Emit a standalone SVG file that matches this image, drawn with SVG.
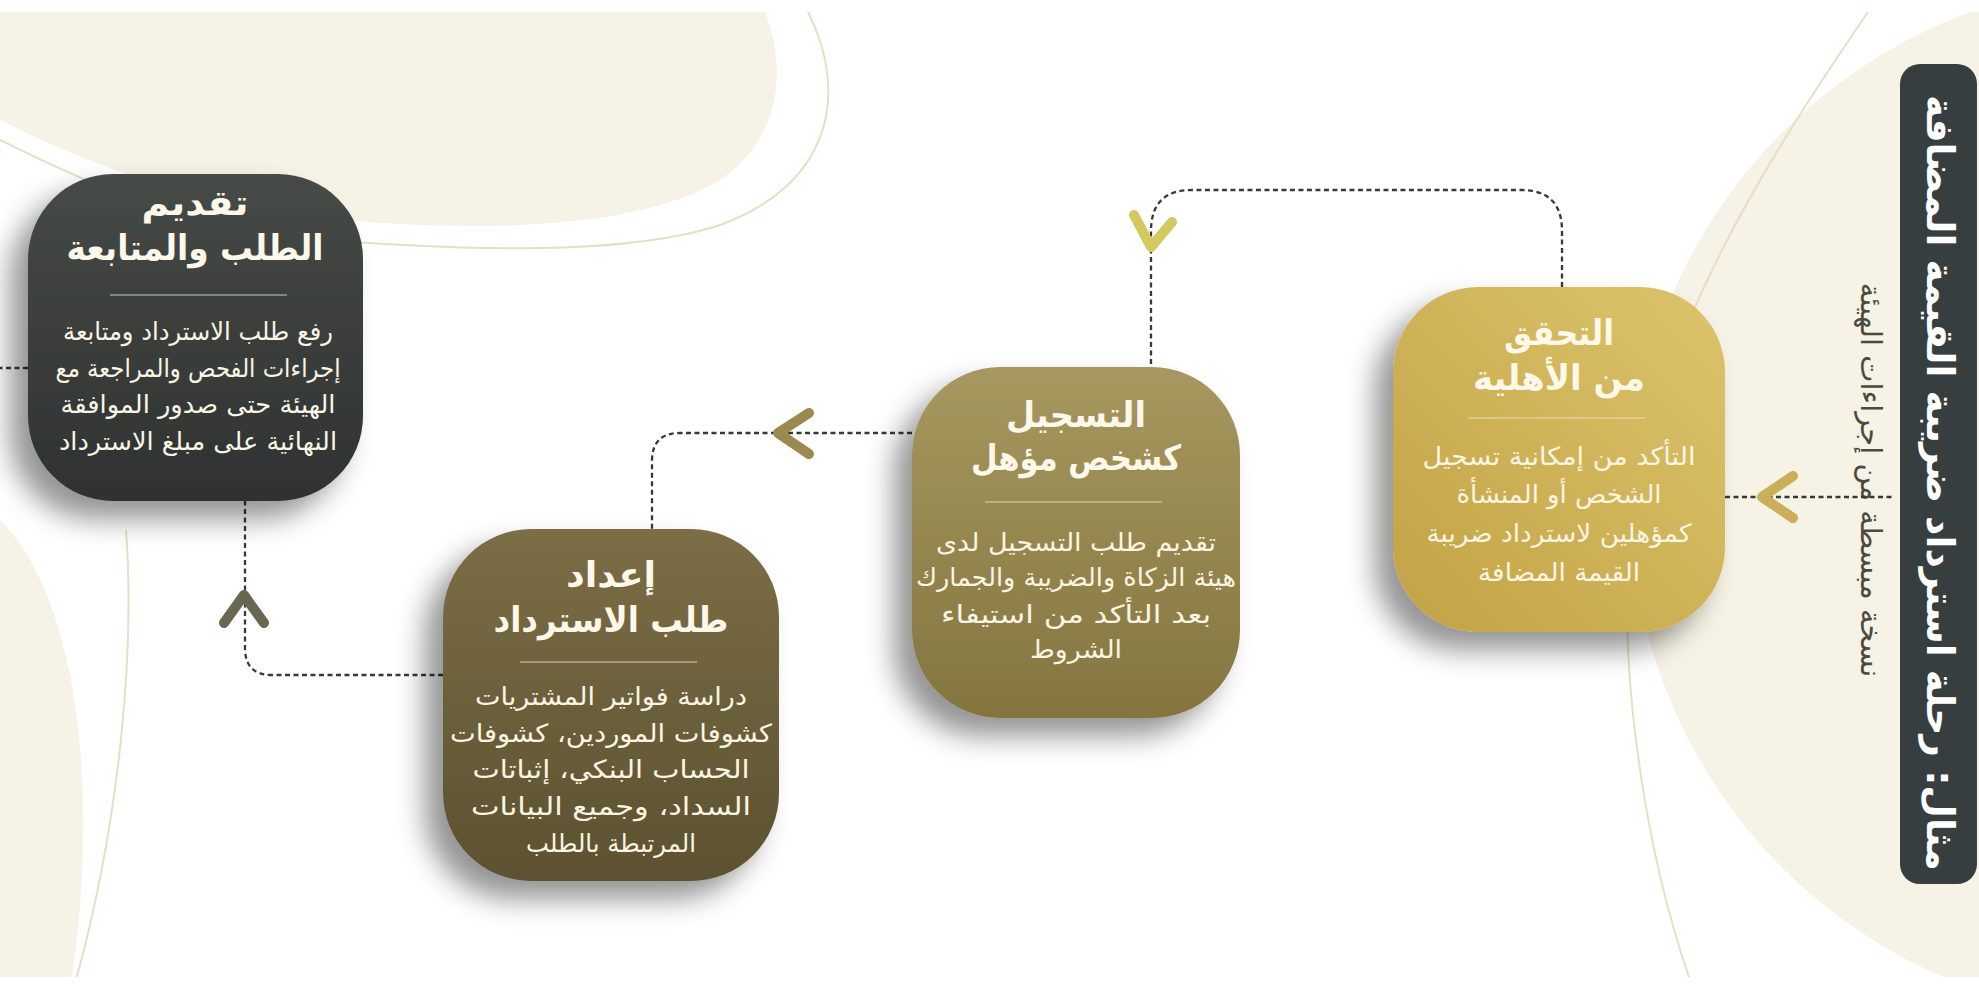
<svg xmlns="http://www.w3.org/2000/svg" width="1979" height="989" viewBox="0 0 1979 989">
<defs>
<linearGradient id="g1" x1="1" y1="0" x2="0" y2="1"><stop offset="0" stop-color="#dcc46c"/><stop offset="1" stop-color="#c2a244"/></linearGradient>
<linearGradient id="g2" x1="0" y1="0" x2="0" y2="1"><stop offset="0" stop-color="#a6985f"/><stop offset="1" stop-color="#847540"/></linearGradient>
<linearGradient id="g3" x1="0" y1="0" x2="0" y2="1"><stop offset="0" stop-color="#7b6e46"/><stop offset="1" stop-color="#5c5130"/></linearGradient>
<linearGradient id="g4" x1="0" y1="0" x2="0" y2="1"><stop offset="0" stop-color="#464a47"/><stop offset="1" stop-color="#2f3231"/></linearGradient>
<filter id="sh" x="-40%" y="-30%" width="170%" height="170%"><feDropShadow dx="-18" dy="18" stdDeviation="14" flood-color="#000" flood-opacity="0.42"/></filter>
<clipPath id="page"><rect x="0" y="12" width="1979" height="965"/></clipPath>
</defs>
<style>
.t{font-family:"DejaVu Sans",sans-serif;font-weight:bold;font-size:35px;fill:#fdf8ea;text-anchor:middle}
.b{font-family:"DejaVu Sans",sans-serif;font-size:25px;fill:#fbf5e4;text-anchor:middle}
.dv{stroke:#f3e9cc;stroke-opacity:.55;stroke-width:1.5}
.c{fill:none;stroke:#383838;stroke-width:2.3;stroke-dasharray:5 3.5}
.ch{fill:none;stroke-width:10;stroke-linecap:round;stroke-linejoin:round}
.bg{fill:#f6f2e5}
.ln{fill:none;stroke:#e6dec6;stroke-width:2}
</style>
<rect width="1979" height="989" fill="#ffffff"/>
<g id="background" clip-path="url(#page)">
<path class="bg" d="M0,12 H765 C790,75 780,160 690,195 C590,235 420,230 300,215 C180,200 80,160 0,120 Z"/>
<path class="ln" d="M808,12 C850,95 830,185 720,225 C620,258 440,250 290,237 C180,225 80,180 0,140"/>
<circle class="bg" cx="2150" cy="500" r="520"/>
<path class="ln" d="M1868,12 C1760,170 1660,330 1632,520 C1615,660 1645,850 1690,980"/>
<path class="bg" d="M0,520 C80,600 100,800 70,989 H0 Z"/>
<path class="ln" d="M126,530 C135,650 120,820 76,980"/>
</g>
<g id="title">
<rect x="1900" y="64" width="77" height="820" rx="20" fill="#363e40"/>
<text x="1940" y="483" transform="rotate(90 1940 483)" dy="13" direction="rtl" textLength="776" lengthAdjust="spacingAndGlyphs" style="font-family:'DejaVu Sans',sans-serif;font-weight:bold;font-size:38px;fill:#ffffff;text-anchor:middle">مثال: رحلة استرداد ضريبة القيمة المضافة</text>
<text x="1871" y="480" transform="rotate(90 1871 480)" dy="10" direction="rtl" style="font-family:'DejaVu Sans',sans-serif;font-size:29px;fill:#4b4b3c;text-anchor:middle">نسخة مبسطة من إجراءات الهيئة</text>
</g>
<g id="connectors">
<path class="c" d="M1725,497 H1895"/>
<path class="c" d="M1562,287 V231 Q1562,190 1521,190 H1192 Q1151,190 1151,231 V367"/>
<path class="c" d="M912,433 H680 Q652,433 652,461 V529"/>
<path class="c" d="M443,675 H272 Q245,675 245,648 V501"/>
<path class="c" d="M28,368 H0"/>
<polyline class="ch" stroke="#c9b058" points="1793,476 1762,497 1793,518"/>
<polyline class="ch" stroke="#d3c95e" points="1134,215 1151,247 1172,222"/>
<polyline class="ch" stroke="#9a8a50" points="809,413 778,433 809,454"/>
<polyline class="ch" stroke="#6a6750" points="224,623 244,595 264,623"/>
</g>
<g id="node1">
<rect x="1393" y="287" width="332" height="345" rx="85" fill="url(#g1)" filter="url(#sh)"/>
<text class="t" x="1559" y="345" direction="rtl" textLength="110" lengthAdjust="spacingAndGlyphs">التحقق</text>
<text class="t" x="1559" y="390" direction="rtl" textLength="172" lengthAdjust="spacingAndGlyphs">من الأهلية</text>
<line class="dv" x1="1468" y1="418" x2="1645" y2="418"/>
<text class="b" x="1559" y="465" direction="rtl" textLength="273" lengthAdjust="spacingAndGlyphs">التأكد من إمكانية تسجيل</text>
<text class="b" x="1559" y="503" direction="rtl" textLength="205" lengthAdjust="spacingAndGlyphs">الشخص أو المنشأة</text>
<text class="b" x="1559" y="542" direction="rtl" textLength="265" lengthAdjust="spacingAndGlyphs">كمؤهلين لاسترداد ضريبة</text>
<text class="b" x="1559" y="581" direction="rtl" textLength="162" lengthAdjust="spacingAndGlyphs">القيمة المضافة</text>
</g>
<g id="node2">
<rect x="912" y="367" width="328" height="351" rx="88" fill="url(#g2)" filter="url(#sh)"/>
<text class="t" x="1076" y="427" direction="rtl" textLength="140" lengthAdjust="spacingAndGlyphs">التسجيل</text>
<text class="t" x="1076" y="470" direction="rtl" textLength="210" lengthAdjust="spacingAndGlyphs">كشخص مؤهل</text>
<line class="dv" x1="985" y1="502" x2="1162" y2="502"/>
<text class="b" x="1076" y="551" direction="rtl" textLength="280" lengthAdjust="spacingAndGlyphs">تقديم طلب التسجيل لدى</text>
<text class="b" x="1076" y="586" direction="rtl" textLength="320" lengthAdjust="spacingAndGlyphs">هيئة الزكاة والضريبة والجمارك</text>
<text class="b" x="1076" y="623" direction="rtl" textLength="270" lengthAdjust="spacingAndGlyphs">بعد التأكد من استيفاء</text>
<text class="b" x="1076" y="658" direction="rtl" textLength="92" lengthAdjust="spacingAndGlyphs">الشروط</text>
</g>
<g id="node3">
<rect x="443" y="529" width="336" height="352" rx="88" fill="url(#g3)" filter="url(#sh)"/>
<text class="t" x="611" y="587" direction="rtl" textLength="90" lengthAdjust="spacingAndGlyphs">إعداد</text>
<text class="t" x="611" y="632" direction="rtl" textLength="235" lengthAdjust="spacingAndGlyphs">طلب الاسترداد</text>
<line class="dv" x1="520" y1="662" x2="697" y2="662"/>
<text class="b" x="611" y="705" direction="rtl" textLength="272" lengthAdjust="spacingAndGlyphs">دراسة فواتير المشتريات</text>
<text class="b" x="611" y="742" direction="rtl" textLength="322" lengthAdjust="spacingAndGlyphs">كشوفات الموردين، كشوفات</text>
<text class="b" x="611" y="778" direction="rtl" textLength="277" lengthAdjust="spacingAndGlyphs">الحساب البنكي، إثباتات</text>
<text class="b" x="611" y="815" direction="rtl" textLength="280" lengthAdjust="spacingAndGlyphs">السداد، وجميع البيانات</text>
<text class="b" x="611" y="852" direction="rtl" textLength="170" lengthAdjust="spacingAndGlyphs">المرتبطة بالطلب</text>
</g>
<g id="node4">
<rect x="28" y="174" width="335" height="327" rx="85" fill="url(#g4)" filter="url(#sh)"/>
<text class="t" x="195" y="215" direction="rtl" textLength="107" lengthAdjust="spacingAndGlyphs">تقديم</text>
<text class="t" x="195" y="260" direction="rtl" textLength="257" lengthAdjust="spacingAndGlyphs">الطلب والمتابعة</text>
<line class="dv" x1="110" y1="295" x2="287" y2="295"/>
<text class="b" x="198" y="340" direction="rtl" textLength="270" lengthAdjust="spacingAndGlyphs">رفع طلب الاسترداد ومتابعة</text>
<text class="b" x="198" y="377" direction="rtl" textLength="285" lengthAdjust="spacingAndGlyphs">إجراءات الفحص والمراجعة مع</text>
<text class="b" x="198" y="413" direction="rtl" textLength="275" lengthAdjust="spacingAndGlyphs">الهيئة حتى صدور الموافقة</text>
<text class="b" x="198" y="450" direction="rtl" textLength="278" lengthAdjust="spacingAndGlyphs">النهائية على مبلغ الاسترداد</text>
</g>
</svg>
